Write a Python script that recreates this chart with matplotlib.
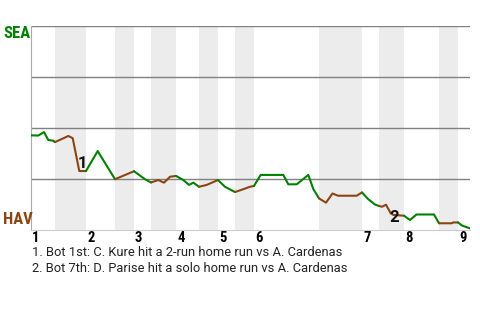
import matplotlib
matplotlib.use("Agg")
import matplotlib.pyplot as plt
import matplotlib.transforms as mtransforms
from matplotlib import font_manager
import numpy as np

plt.rcParams["font.family"] = ["Roboto", "DejaVu Sans"]

# game progress (play units) and SEA win probability (%)
progress = [0, 1.46, 2.6, 3.46, 4.4, 4.8, 6.6, 7.46, 8.34, 9.66, 11.0,
            13.34, 16.8, 20.6, 22.8, 24.0, 25.46, 26.6, 27.8, 29.0,
            30.46, 31.6, 32.46, 33.6, 35.14, 37.4, 38.8, 40.8, 42.46,
            43.8, 44.6, 45.94, 50.46, 51.46, 53.14, 55.46, 56.46, 57.6,
            59.0, 60.3, 61.4, 65.14, 66.2, 67.4, 68.8, 69.6, 70.2, 71.0,
            71.94, 72.46, 74.6, 75.8, 77.1, 80.6, 81.6, 84.14, 84.46,
            85.4, 86.2, 87.8]
sea_wp = [46.4, 46.3, 48.0, 44.1, 43.8, 43.1, 45.1, 46.1, 45.0, 28.9, 28.9,
          38.7, 24.9, 28.8, 24.9, 23.3, 24.5, 23.2, 26.1, 26.5,
          24.5, 22.1, 23.2, 21.2, 22.1, 24.5, 21.2, 18.6, 20.0,
          21.2, 21.6, 27.0, 27.0, 22.4, 22.4, 27.0, 20.1, 15.5,
          13.4, 17.9, 16.8, 16.8, 18.4, 15.2, 12.5, 11.8, 11.4, 12.4,
          8.2, 7.4, 7.0, 4.9, 7.6, 7.6, 3.3, 3.3, 3.7,
          3.7, 2.2, 0.8]

# half-inning boundaries (top, bottom, top, ...)
half_bounds = [0, 4.8, 11.0, 16.8, 20.6, 24.0, 29.0, 33.6, 37.4, 40.8,
               44.6, 57.6, 66.2, 69.6, 74.6, 81.6, 85.4, 87.8]
innings = ["1", "2", "3", "4", "5", "6", "7", "8", "9"]

notes = ["1. Bot 1st: C. Kure hit a 2-run home run vs A. Cardenas",
         "2. Bot 7th: D. Parise hit a solo home run vs A. Cardenas"]
note_x = [10.2, 72.7]
note_y = [32.8, 6.1]

away_team, home_team = "SEA", "HAV"
away_color, home_color = "#008000", "#8B4513"

# narrow bold face for team names / innings if one is installed
installed = {f.name for f in font_manager.fontManager.ttflist}
narrow = next((n for n in ["Roboto Condensed", "Liberation Sans Narrow",
                           "DejaVu Sans Condensed"] if n in installed), None)
label_font = [narrow, "Roboto"] if narrow else ["Roboto"]
team_size = 12 if narrow else 10.5

fig = plt.figure(figsize=(4.8, 3.2), dpi=100)
ax = fig.add_axes([31 / 480, 90 / 320, 439 / 480, 204 / 320])
ax.set_xlim(half_bounds[0], half_bounds[-1])
ax.set_ylim(0, 100)

for i in range(1, len(half_bounds) - 1, 2):
    ax.axvspan(half_bounds[i], half_bounds[i + 1], color="#ececec", lw=0, zorder=0)

for yv in [25, 50, 75, 100]:
    ax.axhline(yv, color="#808080", lw=1.0, zorder=1)

x = np.array(progress)
y = np.array(sea_wp)
for i in range(len(half_bounds) - 1):
    m = (x >= half_bounds[i] - 1e-9) & (x <= half_bounds[i + 1] + 1e-9)
    ax.plot(x[m], y[m], color=away_color if i % 2 == 0 else home_color,
            lw=1.5, zorder=3, solid_joinstyle="round", solid_capstyle="round")

for k, (nx, ny) in enumerate(zip(note_x, note_y)):
    ax.text(nx, ny, str(k + 1), fontsize=12, fontweight="bold", color="#111111",
            ha="center", va="center", zorder=4)

for s in ["top", "right"]:
    ax.spines[s].set_visible(False)
ax.spines["left"].set_color("#aaaaaa")
ax.spines["bottom"].set_color("#cccccc")
ax.set_yticks([])
ax.set_xticks(half_bounds[0:-1:2])
ax.set_xticklabels(innings, fontsize=10.5, fontweight="bold", ha="left",
                   family=label_font)
ax.tick_params(axis="x", length=0, pad=1)
offset = mtransforms.ScaledTranslation(1 / 100, 0, fig.dpi_scale_trans)
for lab in ax.get_xticklabels():
    lab.set_transform(lab.get_transform() + offset)

fig.text(3 / 480, 1 - 26 / 320, away_team, color=away_color, fontsize=team_size,
         fontweight="bold", ha="left", va="top", family=label_font)
fig.text(3 / 480, 1 - 227 / 320, home_team, color=home_color, fontsize=team_size,
         fontweight="bold", ha="left", va="bottom", family=label_font)

for j, note in enumerate(notes):
    fig.text(32 / 480, 1 - (252 + 17 * j) / 320, note, fontsize=9.3,
             color="#222222", ha="left", va="center")

fig.savefig("out.png", dpi=100)
